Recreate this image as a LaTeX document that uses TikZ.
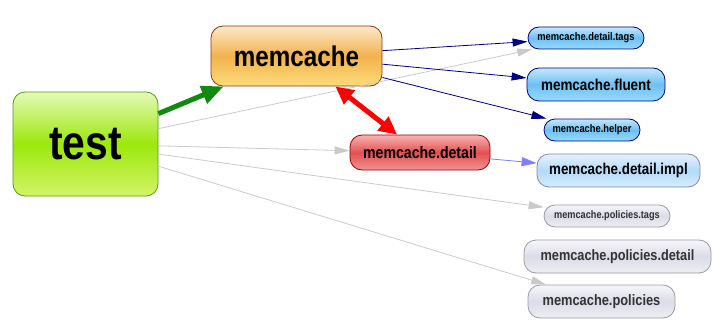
\documentclass[tikz,border=0pt]{standalone}
\usepackage{fontspec}
\usepackage{tikz}
\usetikzlibrary{arrows.meta}
\newfontfamily\depfont[FakeStretch=0.85]{Liberation Sans}
\newcommand\depsize[1]{\depfont\bfseries\fontsize{#1}{#1}\selectfont}

\definecolor{limetop}{HTML}{E4FAB8}
\definecolor{limemid}{HTML}{9CE80C}
\definecolor{limebot}{HTML}{D4F468}
\definecolor{limeline}{HTML}{4AA010}
\definecolor{orgtop}{HTML}{FDE9CC}
\definecolor{orgmid}{HTML}{F2B24C}
\definecolor{orgbot}{HTML}{FDDC7C}
\definecolor{orgline}{HTML}{993311}
\definecolor{redtop}{HTML}{F8B4B4}
\definecolor{redmid}{HTML}{E45050}
\definecolor{redbot}{HTML}{F09494}
\definecolor{redline}{HTML}{990000}
\definecolor{bluetop}{HTML}{C4E8FF}
\definecolor{bluemid}{HTML}{6EC0F2}
\definecolor{bluebot}{HTML}{98DAFF}
\definecolor{paletop}{HTML}{E6F2FF}
\definecolor{palemid}{HTML}{B4DAF8}
\definecolor{palebot}{HTML}{D4EEFF}
\definecolor{paleline}{HTML}{8484B4}
\definecolor{greytop}{HTML}{F6F6FA}
\definecolor{greymid}{HTML}{DCDCE8}
\definecolor{greybot}{HTML}{EEEEF4}
\definecolor{greyline}{HTML}{9A9AA4}
\definecolor{edgegrey}{HTML}{CACACA}
\definecolor{edgeblue}{HTML}{7F7FFF}
\definecolor{edgegreen}{HTML}{108A10}

\tikzset{
  pkg/.style={draw, rounded corners=12pt, line width=0.8pt, inner sep=0pt},
  pkglime/.style={pkg, draw=limeline, top color=limetop, bottom color=limebot, middle color=limemid},
  pkgorange/.style={pkg, draw=orgline, top color=orgtop, bottom color=orgbot, middle color=orgmid},
  pkgred/.style={pkg, draw=redline, top color=redtop, bottom color=redbot, middle color=redmid},
  pkgblue/.style={pkg, draw=blue!50!black, top color=bluetop, bottom color=bluebot, middle color=bluemid},
  pkgpale/.style={pkg, draw=paleline, top color=paletop, bottom color=palebot, middle color=palemid},
  pkggrey/.style={pkg, draw=greyline, top color=greytop, bottom color=greybot, middle color=greymid, text=black!80},
  usedep/.style={edgegrey, line width=0.8pt, -{Triangle[length=15pt,width=8pt]}},
  subdep/.style={blue!50!black, line width=0.8pt, -{Triangle[length=15pt,width=8pt]}}
}

\begin{document}
\begin{tikzpicture}[x=1pt,y=-1pt]%
  \useasboundingbox (0,0) rectangle (714,321);%
  \node [pkglime, minimum width=145pt, minimum height=104pt, font=\depsize{48}] (test) at (85.5,144) {test};%
  \node [pkgorange, minimum width=171pt, minimum height=60pt, font=\depsize{28.5}] (mc) at (296.5,56) {memcache};%
  \node [pkgred, minimum width=140pt, minimum height=35pt, font=\depsize{16.6}] (detail) at (420,152.5) {memcache.detail};%
  \node [pkgblue, rounded corners=11pt, minimum width=116pt, minimum height=22pt, font=\depsize{11}] (tags) at (586,38) {memcache.detail.tags};%
  \node [pkgblue, minimum width=138pt, minimum height=33pt, font=\depsize{15.8}] (fluent) at (596,84.5) {memcache.fluent};%
  \node [pkgblue, rounded corners=11pt, minimum width=96pt, minimum height=22pt, font=\depsize{11}] (helper) at (592,130) {memcache.helper};%
  \node [pkgpale, minimum width=163pt, minimum height=33pt, font=\depsize{15.7}] (impl) at (618.5,170.5) {memcache.detail.impl};%
  \node [pkggrey, rounded corners=11pt, minimum width=126pt, minimum height=22pt, font=\depsize{10.8}] (ptags) at (607,216) {memcache.policies.tags};%
  \node [pkggrey, minimum width=187pt, minimum height=33pt, font=\depsize{15}] (pdetail) at (617.5,256.5) {memcache.policies.detail};%
  \node [pkggrey, minimum width=147pt, minimum height=33pt, font=\depsize{15.1}] (policies) at (601.5,301.5) {memcache.policies};%
  % light usage edges from test
  \draw [usedep] (test) to (tags);%
  \draw [usedep] (test) to (detail);%
  \draw [usedep] (test) to (ptags);%
  \draw [usedep] (test) to (policies);%
  % memcache and its subpackages
  \draw [subdep] (mc) to (tags);%
  \draw [subdep] (mc) to (fluent);%
  \draw [subdep] (mc) to (helper);%
  \draw [edgeblue, line width=0.8pt, -{Triangle[length=15pt,width=9pt]}] (detail) to (impl);%
  \draw [edgegreen, line width=5pt, -{Triangle[length=22pt,width=18pt]}] (test) to (mc);%
  \draw [red, line width=5pt, {Triangle[length=18pt,width=17pt]}-{Triangle[length=18pt,width=17pt]}] (mc) to (detail);%
\end{tikzpicture}
\end{document}
